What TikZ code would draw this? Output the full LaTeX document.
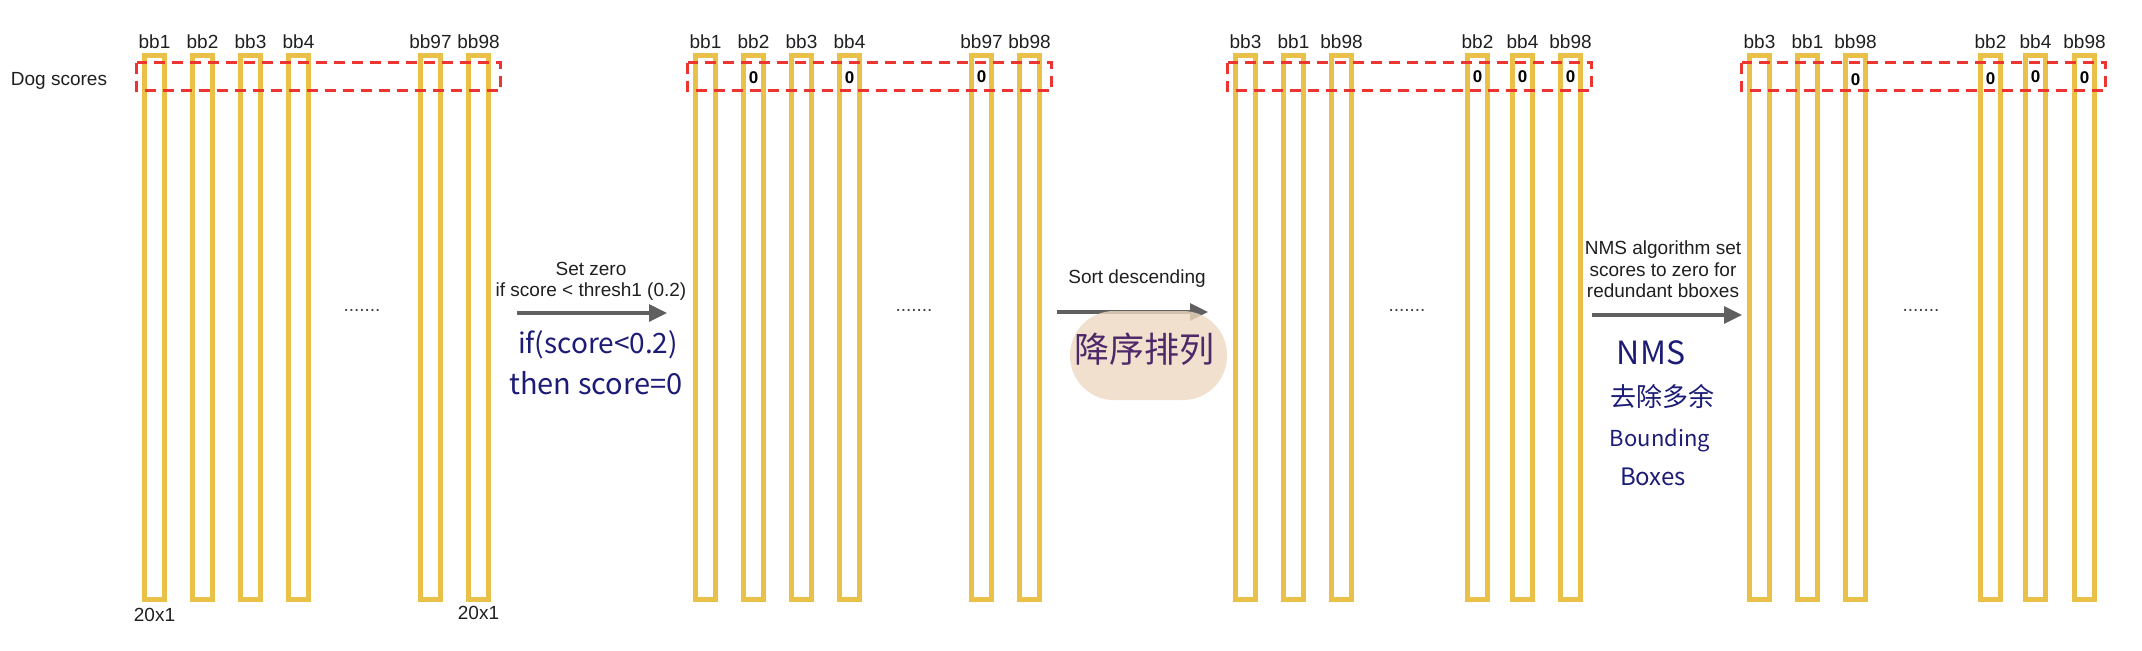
\documentclass[tikz,border=0pt]{standalone}
\usepackage{fontspec}
\setmainfont{Liberation Sans}
\newfontfamily\cjk{Noto Sans CJK SC}
\usepackage{xcolor}
\usetikzlibrary{arrows.meta,positioning,calc}

\definecolor{barcol}{RGB}{233,192,72}
\definecolor{boxred}{RGB}{236,52,48}
\definecolor{arrowgray}{RGB}{96,96,96}
\definecolor{inkblue}{RGB}{28,28,118}
\definecolor{inkpurple}{RGB}{78,40,104}
\definecolor{blobbeige}{RGB}{236,216,192}

\tikzset{
  bar/.style={draw=barcol, line width=2.6pt, minimum width=9.9pt,
    minimum height=271.9pt, inner sep=0pt},
  bblabel/.style={font=\fontsize{9.5}{11}\selectfont, text=black!88, inner sep=0pt},
  zero/.style={font=\fontsize{8.5}{10}\bfseries, inner sep=0pt},
  scorebox/.style={draw=boxred, line width=1.3pt, dash pattern=on 5.5pt off 3.5pt},
  flow/.style={draw=arrowgray, line width=1.6pt, -{Triangle[length=9pt,width=8.5pt]}},
  note/.style={font=\fontsize{9.5}{10.75}\selectfont, text=black!88, align=center, inner sep=0pt},
  hand/.style={text=inkblue, inner sep=0pt},
  dots/.style={font=\fontsize{9.5}{11}\selectfont, text=black!75, inner sep=0pt}
}

\begin{document}
\begin{tikzpicture}[x=0.5pt,y=-0.5pt]
\useasboundingbox (0,0) rectangle (2142,650);

\node[bblabel] (dog) at (59,81) {Dog scores};

% stage 1: raw scores
\foreach \n/\dx/\lab in {1/0/bb1,2/48/bb2,3/96/bb3,4/144/bb4,5/276/bb97,6/324/bb98}{
  \node[bar] (s1b\n) at (154.5+\dx,327.5) {};
  \node[bblabel, above=2pt of s1b\n] (s1l\n) {\lab};
}
\draw[scorebox] (136.5,62.5) rectangle (500.5,90.5);
\node[dots] (s1d) at (362,310) {.......};
\node[bblabel, below=3pt of s1b1] (s1w) {20x1};
\node[bblabel, below=2pt of s1b6] (s1h) {20x1};

% stage 2: after threshold
\foreach \n/\dx/\lab in {1/0/bb1,2/48/bb2,3/96/bb3,4/144/bb4,5/276/bb97,6/324/bb98}{
  \node[bar] (s2b\n) at (705.5+\dx,327.5) {};
  \node[bblabel, above=2pt of s2b\n] (s2l\n) {\lab};
}
\draw[scorebox] (687.5,62.5) rectangle (1051.5,90.5);
\node[dots] (s2d) at (914,310) {.......};
\node[zero] (s2z2) at (s2b2 |- 0,78) {0};
\node[zero] (s2z4) at (s2b4 |- 0,78) {0};
\node[zero] (s2z5) at (s2b5 |- 0,77) {0};

% stage 3: sorted
\foreach \n/\dx/\lab in {1/0/bb3,2/48/bb1,3/96/bb98,4/232/bb2,5/277/bb4,6/325/bb98}{
  \node[bar] (s3b\n) at (1245.5+\dx,327.5) {};
  \node[bblabel, above=2pt of s3b\n] (s3l\n) {\lab};
}
\draw[scorebox] (1227.5,62.5) rectangle (1591.5,90.5);
\node[dots] (s3d) at (1407,310) {.......};
\node[zero] (s3z4) at (s3b4 |- 0,77) {0};
\node[zero] (s3z5) at (s3b5 |- 0,77) {0};
\node[zero] (s3z6) at (s3b6 |- 0,77) {0};

% stage 4: after NMS
\foreach \n/\dx/\lab in {1/0/bb3,2/48/bb1,3/96/bb98,4/231/bb2,5/276/bb4,6/325/bb98}{
  \node[bar] (s4b\n) at (1759.5+\dx,327.5) {};
  \node[bblabel, above=2pt of s4b\n] (s4l\n) {\lab};
}
\draw[scorebox] (1741.5,62.5) rectangle (2105.5,90.5);
\node[dots] (s4d) at (1921,310) {.......};
\node[zero] (s4z3) at (s4b3 |- 0,80) {0};
\node[zero] (s4z4) at (s4b4 |- 0,79) {0};
\node[zero] (s4z5) at (s4b5 |- 0,77) {0};
\node[zero] (s4z6) at (s4b6 |- 0,78) {0};

% step 1: threshold
\coordinate (a1s) at (517,313);
\coordinate (a1e) at (667,313);
\draw[flow] (a1s) -- (a1e);
\node[note] (a1t) at (591,281.5) {Set zero\\if score < thresh1 (0.2)};
\node[hand, font=\cjk\fontsize{14}{17}\selectfont] (h1a) at (598,345) {if(score<0.2)};
\node[hand, font=\cjk\fontsize{14.5}{17}\selectfont] (h1b) at (596,383) {then score=0};

% step 2: sort
\coordinate (a2s) at (1057,312);
\coordinate (a2e) at (1208,312);
\draw[flow] (a2s) -- (a2e);
\node[note] (a2t) at (1137,279) {Sort descending};
\node[fill=blobbeige, fill opacity=0.8, rounded corners=22pt, minimum width=78.5pt,
  minimum height=44.5pt, inner sep=0pt] (blob) at (1148.5,355.5) {};
\node[text=inkpurple, font=\cjk\fontsize{17.5}{20}\selectfont, inner sep=0pt] (h2) at (1144,349) {降序排列};

% step 3: NMS
\coordinate (a3s) at (1592,315);
\coordinate (a3e) at (1742,315);
\draw[flow] (a3s) -- (a3e);
\node[note] (a3t) at (1663,269.5) {NMS algorithm set\\scores to zero for\\redundant bboxes};
\node[hand, font=\cjk\fontsize{16}{18}\selectfont] (h3a) at (1651,353) {NMS};
\node[hand, font=\cjk\fontsize{13}{16}\selectfont] (h3b) at (1662,397) {去除多余};
\node[hand, font=\cjk\fontsize{11}{14}\selectfont] (h3c) at (1660,440) {Bounding};
\node[hand, font=\cjk\fontsize{12}{15}\selectfont] (h3d) at (1653,477) {Boxes};
\end{tikzpicture}
\end{document}
